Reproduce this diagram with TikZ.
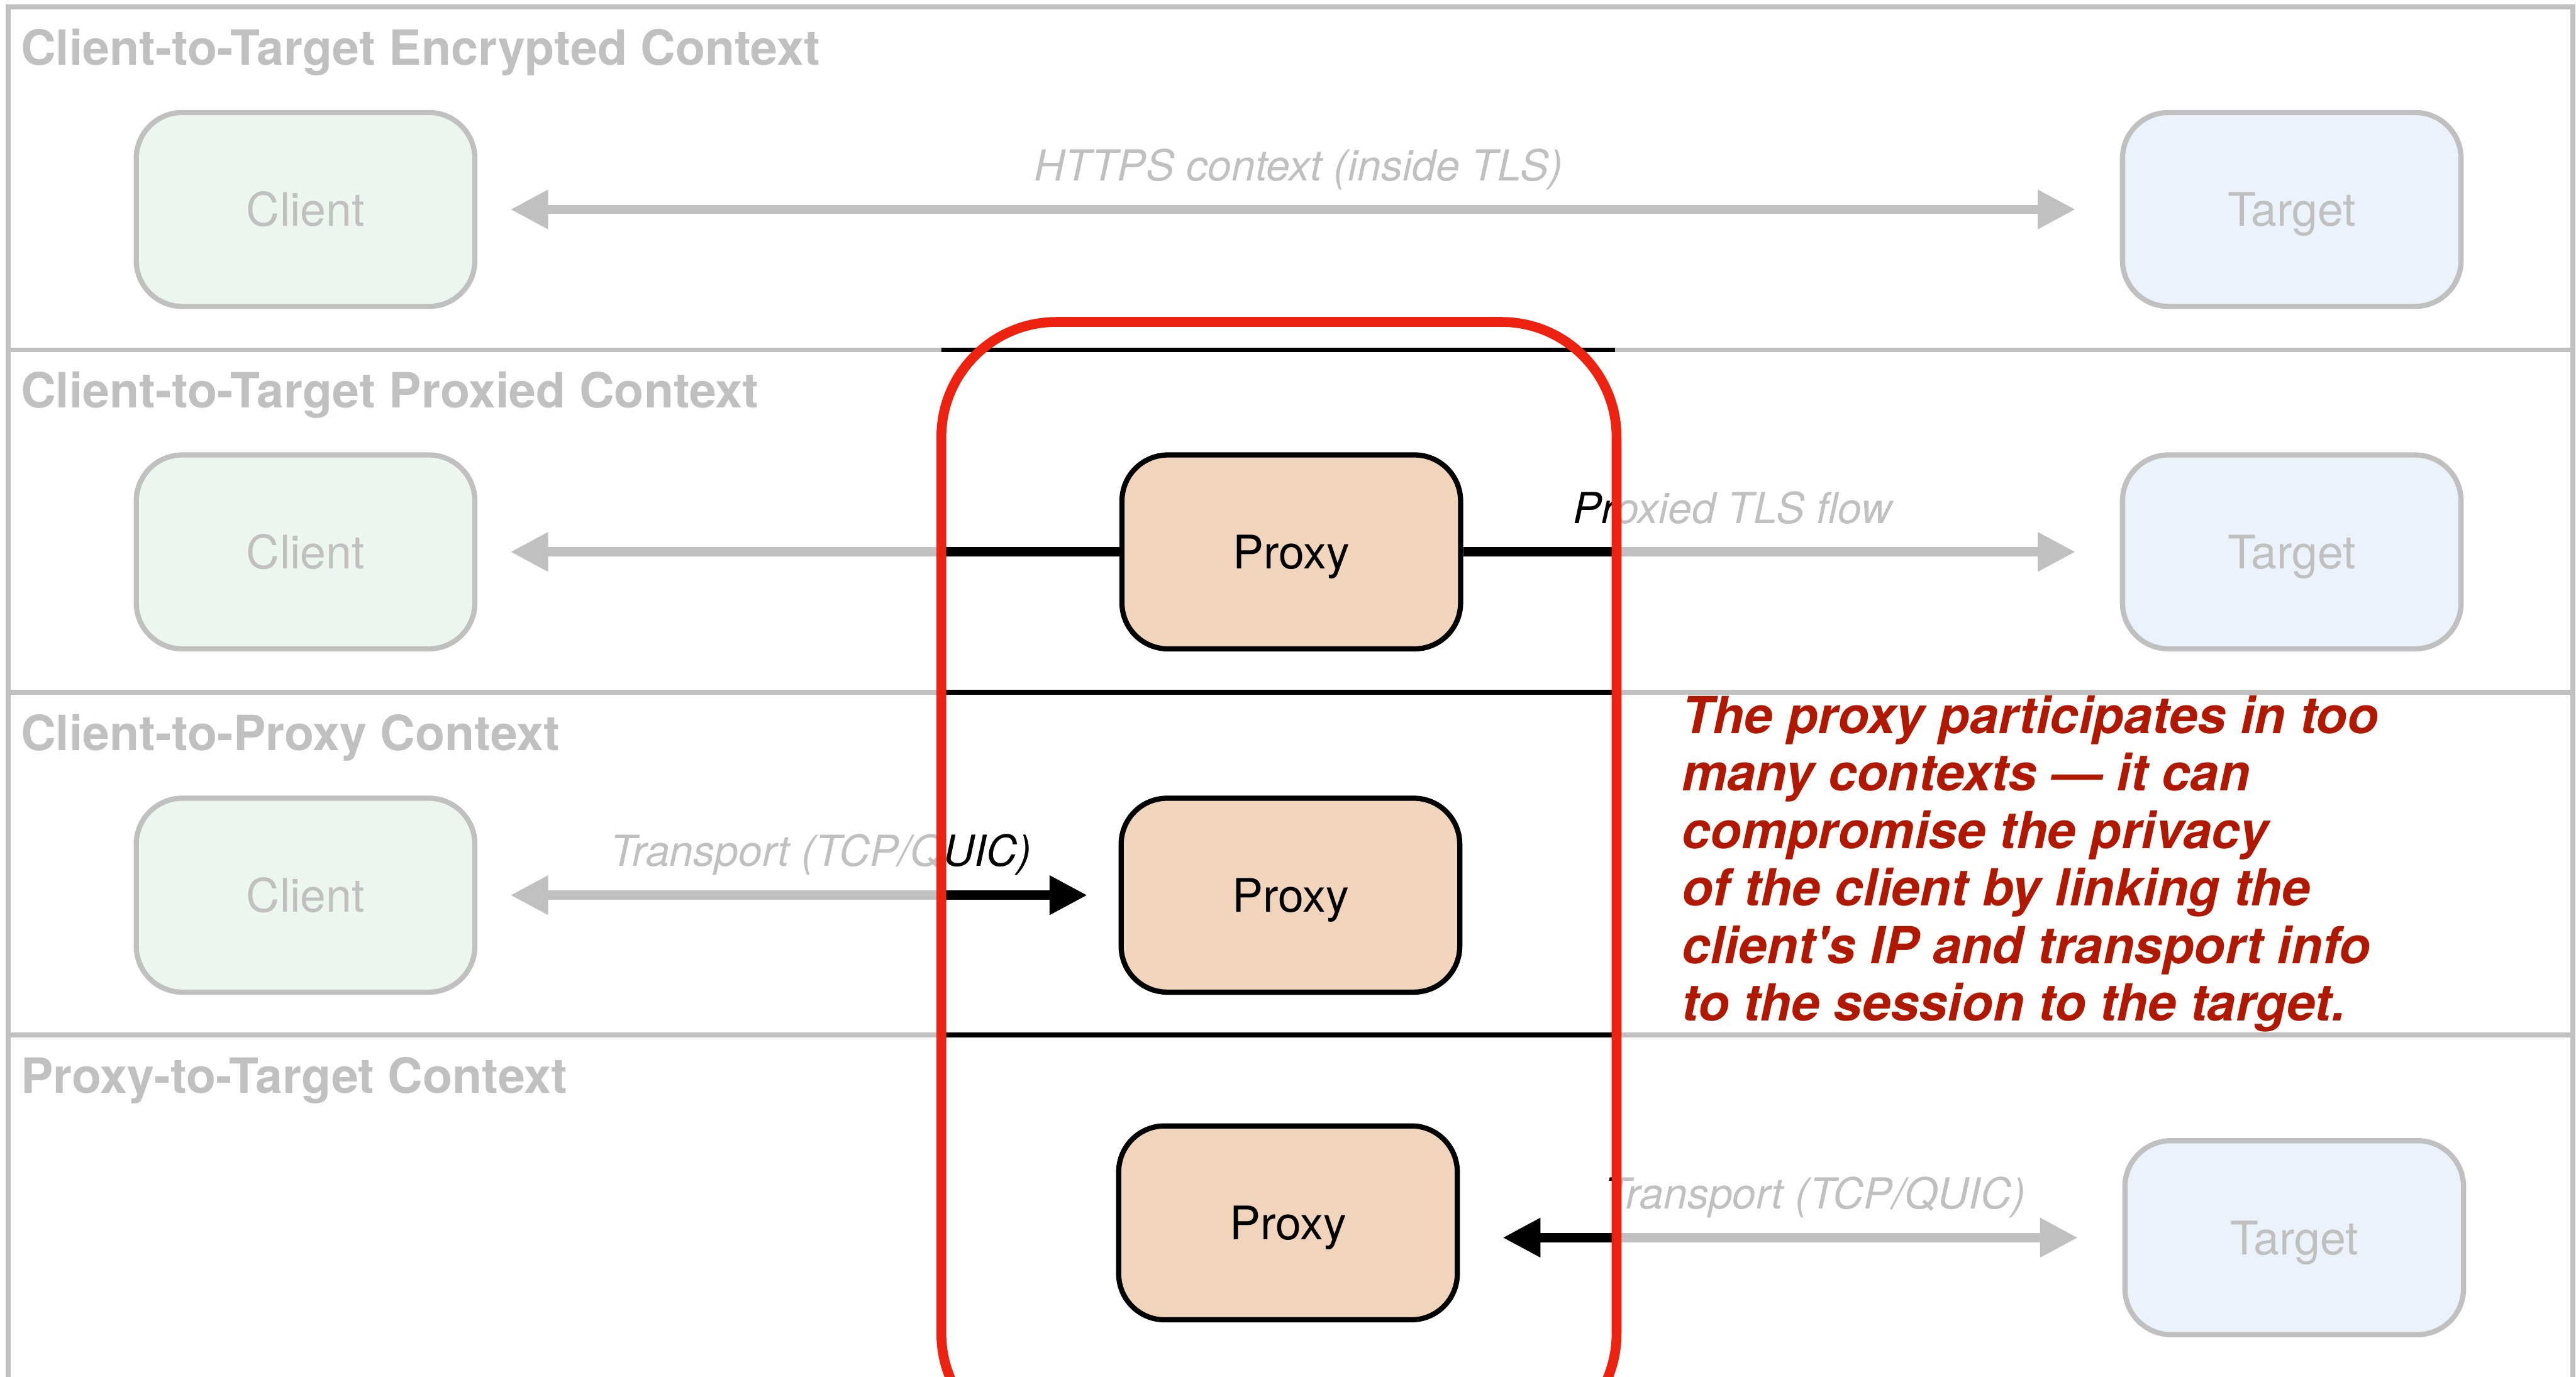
\documentclass[tikz,border=0pt]{standalone}
\usepackage{fontspec}
\setmainfont{TeX Gyre Heros}
\usetikzlibrary{arrows.meta}

\definecolor{ctxgray}{HTML}{C0C0C0}
\definecolor{clientfill}{HTML}{EDF6EE}
\definecolor{targetfill}{HTML}{EBF2FA}
\definecolor{proxyfill}{HTML}{F0D4BB}
\definecolor{warnred}{HTML}{EE2211}
\definecolor{notered}{HTML}{B01800}

\tikzset{
  box/.style={rounded corners=0.28cm, minimum width=2.06cm, minimum height=1.18cm,
    line width=0.9pt, inner sep=0pt, text height=5.8pt, text depth=0pt,
    font=\fontsize{8}{9.6}\selectfont},
  endpoint/.style={box, draw=ctxgray, text=ctxgray},
  proxybox/.style={box, draw=black, fill=proxyfill},
  heading/.style={anchor=base west, inner sep=0pt, text=ctxgray,
    font=\fontsize{8.4}{10}\selectfont\bfseries},
  flowlabel/.style={anchor=base, inner sep=0pt, yshift=0.175cm,
    font=\fontsize{7.4}{9}\selectfont\itshape},
  tip/.tip={Triangle[length=0.23cm,width=0.225cm]},
  flow/.style={line width=1.6pt, -tip},
  note/.style={anchor=base west, align=left, inner sep=0pt, text=notered,
    font=\fontsize{8.85}{9.96}\selectfont\bfseries\itshape},
}

% frames, arrows and labels of the four contexts, in one colour
\newcommand{\contextflows}[1]{%
  \draw[#1, line width=0.85pt] (5,850) -- (5,4.2) -- (1566,4.2) -- (1566,850);
  \foreach \y in {213,421.5,630}
    \draw[#1, line width=0.85pt] (5,\y) -- (1566,\y);
  \draw[#1, flow, tip-tip, shorten <=0.2cm, shorten >=0.27cm] (client1) --
    node[flowlabel] {HTTPS context (inside TLS)} (target1);
  \draw[#1, flow, shorten >=0.2cm] (proxy2) -- (client2);
  \draw[#1, flow, shorten >=0.27cm] (proxy2) --
    node[flowlabel, pos=0.41] {Proxied TLS flow} (target2);
  \draw[#1, flow, tip-tip, shorten <=0.2cm, shorten >=0.19cm] (client3) --
    node[flowlabel, pos=0.536] {Transport (TCP/QUIC)} (proxy3);
  \draw[#1, flow, tip-tip, shorten <=0.27cm, shorten >=0.26cm] (target4) --
    node[flowlabel, pos=0.464] {Transport (TCP/QUIC)} (target4 -| proxy4.east);
}

\begin{document}
\begin{tikzpicture}[x=0.01cm, y=-0.01cm]
\useasboundingbox (0,0) rectangle (1568,838);
\clip (0,0) rectangle (1568,838);

\node[heading] (ctx1) at (12,39.6) {Client-to-Target Encrypted Context};
\node[heading] (ctx2) at (12,248.2) {Client-to-Target Proxied Context};
\node[heading] (ctx3) at (12,456.8) {Client-to-Proxy Context};
\node[heading] (ctx4) at (12,665.4) {Proxy-to-Target Context};

\node[endpoint, fill=clientfill] (client1) at (186,127.5) {Client};
\node[endpoint, fill=targetfill] (target1) at (1395,127.5) {Target};
\node[endpoint, fill=clientfill] (client2) at (186,336) {Client};
\node[proxybox] (proxy2) at (786,336) {Proxy};
\node[endpoint, fill=targetfill] (target2) at (1395,336) {Target};
\node[endpoint, fill=clientfill] (client3) at (186,545) {Client};
\node[proxybox] (proxy3) at (785.5,545) {Proxy};
\node[proxybox] (proxy4) at (784,744.5) {Proxy};
\node[endpoint, fill=targetfill] (target4) at (1396.5,753.5) {Target};

\contextflows{ctxgray}
% the proxy's column is shown in black
\begin{scope}
  \clip (573,210) rectangle (983,850);
  \contextflows{black}
\end{scope}

\draw[warnred, line width=1.7pt, rounded corners=0.7cm] (573,196) rectangle (984,882);

% base of the node is the last line
\node[note] (warning) at (1023,621.5) {The proxy participates in too\\
  many contexts — it can\\
  compromise the privacy\\
  of the client by linking the\\
  client\textquotesingle s IP and transport info\\
  to the session to the target.};
\end{tikzpicture}
\end{document}
